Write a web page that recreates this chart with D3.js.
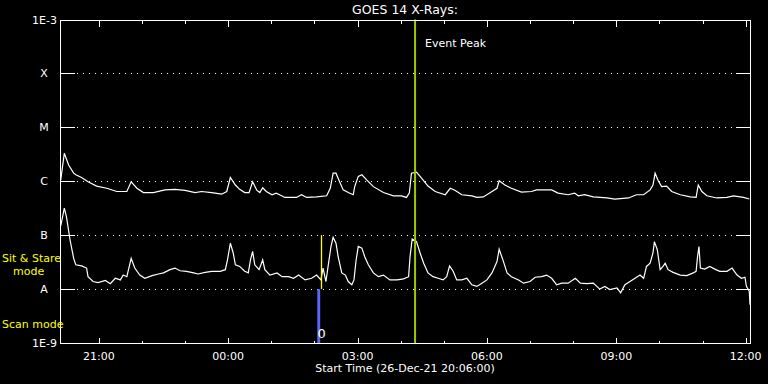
<!DOCTYPE html>
<html>
<head>
<meta charset="utf-8">
<script src="https://cdn.jsdelivr.net/npm/d3@7"></script>
<style>
  html, body { margin: 0; padding: 0; background: #000; }
  svg { display: block; }
  text { font-family: "DejaVu Sans", sans-serif; }
</style>
</head>
<body>
<svg></svg>
<script>
// GOES 14 X-ray flux, 26-Dec-21 20:06 to 27-Dec-21 12:06
// times are minutes after the start time, flux values are log10(W/m^2)
const startTime = new Date(2021, 11, 26, 20, 6, 0);
const endTime = new Date(2021, 11, 27, 12, 6, 0);

const longTime = [1,6,12,19,22,30,39,51,65,79,93,99,107,116,130,146,160,174,188,197,
    211,225,232,237,244,250,257,263,268,274,278,282,287,295,301,313,329,336,343,357,
    371,376,380,384,389,394,401,408,410,415,420,427,436,450,464,475,482,486,489,496,
    503,512,522,536,543,550,559,573,580,589,601,608,611,619,628,642,656,663,684,693,
    707,716,721,730,742,761,772,791,802,812,821,825,828,832,837,844,851,863,877,885,
    888,893,900,914,928,937,951,959];
const longFlux = [-5.98,-5.48,-5.70,-5.85,-5.88,-5.93,-6.01,-6.09,-6.13,-6.19,-6.19,-6.01,-6.13,-6.21,-6.21,-6.16,-6.15,-6.17,-6.21,-6.19,
    -6.21,-6.24,-6.19,-5.93,-6.07,-6.15,-6.21,-6.21,-6.01,-6.17,-6.21,-6.12,-6.19,-6.25,-6.22,-6.30,-6.30,-6.25,-6.30,-6.29,
    -6.27,-6.13,-5.85,-5.85,-6.01,-6.16,-6.21,-6.25,-6.10,-5.91,-5.88,-5.98,-6.10,-6.21,-6.27,-6.27,-6.30,-6.22,-5.85,-5.83,
    -5.94,-6.09,-6.19,-6.25,-6.13,-6.17,-6.25,-6.27,-6.30,-6.29,-6.19,-6.13,-5.99,-6.07,-6.13,-6.20,-6.19,-6.16,-6.16,-6.22,
    -6.25,-6.22,-6.27,-6.25,-6.29,-6.31,-6.33,-6.31,-6.25,-6.25,-6.16,-6.07,-5.85,-5.98,-6.10,-6.09,-6.19,-6.25,-6.29,-6.30,
    -6.07,-6.19,-6.27,-6.31,-6.30,-6.27,-6.30,-6.33];

const shortTime = [1,6,9,14,19,22,30,37,39,46,53,63,70,77,84,88,93,99,104,111,
    118,128,137,144,153,160,167,176,186,192,202,211,223,230,233,237,241,244,250,257,
    262,265,268,271,277,282,285,292,302,309,318,325,332,341,350,357,363,366,370,373,
    377,380,384,387,392,397,401,406,409,412,415,420,424,429,436,443,450,459,469,478,
    485,487,490,496,501,506,512,519,526,533,538,542,547,552,559,566,573,580,587,594,
    601,608,611,617,622,628,638,645,654,661,670,677,684,691,698,707,717,724,733,742,
    751,758,765,775,780,786,793,800,807,812,816,821,825,827,831,835,839,842,846,853,
    863,872,881,885,887,889,891,897,904,911,918,928,935,942,948,953,955,959,960];
const shortFlux = [-6.83,-6.50,-6.66,-7.09,-7.43,-7.55,-7.57,-7.61,-7.77,-7.86,-7.88,-7.84,-7.90,-7.80,-7.83,-7.74,-7.77,-7.43,-7.61,-7.74,
    -7.80,-7.75,-7.72,-7.70,-7.64,-7.61,-7.66,-7.67,-7.70,-7.72,-7.69,-7.67,-7.67,-7.64,-7.46,-7.15,-7.33,-7.55,-7.58,-7.67,
    -7.70,-7.46,-7.30,-7.55,-7.64,-7.46,-7.64,-7.74,-7.70,-7.77,-7.77,-7.80,-7.74,-7.83,-7.80,-7.74,-7.83,-7.61,-7.86,-7.58,
    -7.21,-7.04,-7.15,-7.40,-7.70,-7.74,-7.86,-7.92,-7.83,-7.46,-7.21,-7.24,-7.40,-7.55,-7.70,-7.77,-7.74,-7.83,-7.83,-7.81,
    -7.77,-7.40,-7.07,-7.12,-7.33,-7.52,-7.70,-7.77,-7.80,-7.83,-7.77,-7.57,-7.67,-7.83,-7.83,-7.80,-7.92,-7.95,-7.89,-7.83,
    -7.70,-7.49,-7.26,-7.49,-7.70,-7.77,-7.83,-7.89,-7.86,-7.78,-7.77,-7.74,-7.80,-7.92,-7.89,-7.89,-7.80,-7.89,-7.90,-7.89,
    -8.00,-7.95,-8.01,-7.98,-8.07,-7.92,-7.86,-7.80,-7.74,-7.80,-7.58,-7.52,-7.33,-7.12,-7.27,-7.64,-7.58,-7.52,-7.64,-7.69,
    -7.74,-7.75,-7.70,-7.67,-7.40,-7.21,-7.61,-7.63,-7.58,-7.63,-7.67,-7.67,-7.61,-7.74,-7.80,-7.78,-7.95,-8.04,-8.29];

// flare class levels and their labels
const levelValues = [1e-3, 1e-4, 1e-5, 1e-6, 1e-7, 1e-8, 1e-9];
const levelLabels = ["1E-3", "X", "M", "C", "B", "A", "1E-9"];

// markers (minutes after start)
const eventPeak = 494;
const sitStareMark = 363;
const scanWindow = [358, 362];

const width = 768;
const height = 384;
const margin = { top: 19.5, right: 18, bottom: 41, left: 60 };

const svg = d3.select("svg")
    .attr("width", width)
    .attr("height", height)
    .style("background", "#000");

const atMinute = m => new Date(startTime.getTime() + m * 60000);

const x = d3.scaleTime()
    .domain([startTime, endTime])
    .range([margin.left, width - margin.right]);

const y = d3.scaleLog()
    .domain([1e-9, 1e-3])
    .range([height - margin.bottom, margin.top]);

const x0 = margin.left, x1 = width - margin.right;
const y0 = margin.top, y1 = height - margin.bottom;

// class grid lines: short solid stubs at both sides, dotted in between
const inner = levelValues.slice(1, -1);
const grid = svg.append("g").attr("shape-rendering", "crispEdges");
inner.forEach(v => {
    const yy = Math.round(y(v)) + 0.5;
    grid.append("line").attr("x1", x0).attr("x2", x0 + 15).attr("y1", yy).attr("y2", yy)
        .attr("stroke", "#fff");
    grid.append("line").attr("x1", x1 - 14).attr("x2", x1).attr("y1", yy).attr("y2", yy)
        .attr("stroke", "#fff");
    grid.append("line").attr("x1", x0 + 17).attr("x2", x1 - 16).attr("y1", yy).attr("y2", yy)
        .attr("stroke", "#fff")
        .attr("stroke-dasharray", "1,5");
});

// curves
const line = d3.line()
    .x(d => x(atMinute(d[0])))
    .y(d => y(Math.pow(10, d[1])));

const longData = longTime.map((t, i) => [t, longFlux[i]]);
const shortData = shortTime.map((t, i) => [t, shortFlux[i]]);

[longData, shortData].forEach(data => {
    svg.append("path")
        .datum(data)
        .attr("d", line)
        .attr("fill", "none")
        .attr("stroke", "#fff")
        .attr("stroke-width", 1.2)
        .attr("stroke-linejoin", "miter");
});

// scan mode bar and sit & stare marker
svg.append("rect")
    .attr("x", x(atMinute(scanWindow[0])))
    .attr("width", x(atMinute(scanWindow[1])) - x(atMinute(scanWindow[0])))
    .attr("y", y(1e-8))
    .attr("height", y(1e-9) - y(1e-8))
    .attr("fill", "#5c66ff");

const sx = Math.round(x(atMinute(sitStareMark))) + 0.5;
svg.append("line")
    .attr("x1", sx)
    .attr("x2", sx)
    .attr("y1", y(1e-7))
    .attr("y2", y(1e-8))
    .attr("stroke", "#ffff00")
    .attr("stroke-width", 1.3);

svg.append("text")
    .attr("x", x(atMinute(scanWindow[1])) + 1.5)
    .attr("y", y1 - 5)
    .attr("text-anchor", "middle")
    .attr("fill", "#fff")
    .style("font-size", "13px")
    .text("0");

// event peak
svg.append("line")
    .attr("x1", x(atMinute(eventPeak)))
    .attr("x2", x(atMinute(eventPeak)))
    .attr("y1", y0)
    .attr("y2", y1)
    .attr("stroke", "#99cc00")
    .attr("stroke-width", 2);

svg.append("text")
    .attr("x", x(atMinute(eventPeak)) + 10)
    .attr("y", 47)
    .attr("fill", "#fff")
    .style("font-size", "11px")
    .text("Event Peak");

// frame
const axes = svg.append("g").attr("shape-rendering", "crispEdges").attr("stroke", "#fff");
axes.append("rect")
    .attr("x", x0 + 0.5).attr("y", Math.round(y0) + 0.5)
    .attr("width", x1 - x0 - 0.5).attr("height", Math.round(y1) - Math.round(y0))
    .attr("fill", "none");

// time ticks, hourly, labelled every 3 hours
const hours = d3.timeHour.range(d3.timeHour.ceil(startTime), endTime);
hours.forEach(h => {
    const xx = Math.round(x(h)) + 0.5;
    const len = h.getHours() % 3 === 0 ? 6 : 3;
    axes.append("line").attr("x1", xx).attr("x2", xx)
        .attr("y1", Math.round(y1) + 0.5).attr("y2", Math.round(y1) + 0.5 - len);
    axes.append("line").attr("x1", xx).attr("x2", xx)
        .attr("y1", Math.round(y0) + 0.5).attr("y2", Math.round(y0) + 0.5 + len);
});

const fmt = d3.timeFormat("%H:%M");
svg.append("g").selectAll("text")
    .data(hours.filter(h => h.getHours() % 3 === 0))
    .enter()
    .append("text")
    .attr("x", d => x(d))
    .attr("y", 360)
    .attr("text-anchor", "middle")
    .attr("fill", "#fff")
    .style("font-size", "11px")
    .text(d => fmt(d));

// class labels on the left
svg.append("g").selectAll("text")
    .data(levelValues)
    .enter()
    .append("text")
    .attr("x", (d, i) => levelLabels[i].length > 1 ? 57 : 44)
    .attr("y", d => y(d) + 4)
    .attr("text-anchor", (d, i) => levelLabels[i].length > 1 ? "end" : "middle")
    .attr("fill", "#fff")
    .style("font-size", "11px")
    .text((d, i) => levelLabels[i]);

// title and x label
svg.append("text")
    .attr("x", (x0 + x1) / 2)
    .attr("y", 14)
    .attr("text-anchor", "middle")
    .attr("fill", "#fff")
    .style("font-size", "12.5px")
    .text("GOES 14 X-Rays:");

svg.append("text")
    .attr("x", (x0 + x1) / 2)
    .attr("y", 372)
    .attr("text-anchor", "middle")
    .attr("fill", "#fff")
    .style("font-size", "11px")
    .text("Start Time (" + d3.timeFormat("%d-%b-%y %H:%M:%S")(startTime) + ")");

// mode labels
const modes = svg.append("g").attr("fill", "#ffff00").style("font-size", "11px");
modes.append("text").attr("x", 2).attr("y", 262).text("Sit & Stare");
modes.append("text").attr("x", 13).attr("y", 275).text("mode");
modes.append("text").attr("x", 2).attr("y", 328).text("Scan mode");
</script>
</body>
</html>
